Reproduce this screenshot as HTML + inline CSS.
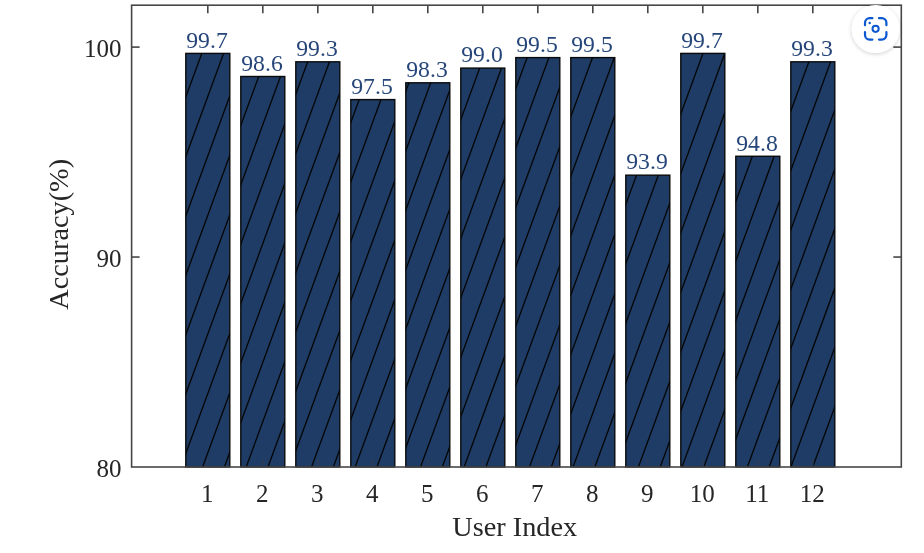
<!DOCTYPE html>
<html lang="en"><head><meta charset="utf-8"><title>Accuracy per User Index</title>
<style>
html,body{margin:0;padding:0;background:#fff;}
body{width:924px;height:553px;overflow:hidden;position:relative;font-family:"Liberation Serif","Times New Roman",serif;}
svg{position:absolute;left:0;top:0;display:block;}
text{font-family:"Liberation Serif","Times New Roman",serif;}
.tk{font-size:25px;fill:#262626;}
.lb{font-size:28.3px;fill:#262626;}
.vl{font-size:23.7px;fill:#26467a;}
</style></head><body>
<svg width="924" height="553" viewBox="0 0 924 553">
<defs>
<clipPath id="bars">
<rect x="185.80" y="53.40" width="44.00" height="413.60"/>
<rect x="240.80" y="76.49" width="44.00" height="390.51"/>
<rect x="295.80" y="61.80" width="44.00" height="405.20"/>
<rect x="350.80" y="99.59" width="44.00" height="367.41"/>
<rect x="405.80" y="82.79" width="44.00" height="384.21"/>
<rect x="460.80" y="68.09" width="44.00" height="398.90"/>
<rect x="515.80" y="57.60" width="44.00" height="409.40"/>
<rect x="570.80" y="57.60" width="44.00" height="409.40"/>
<rect x="625.80" y="175.17" width="44.00" height="291.83"/>
<rect x="680.80" y="53.40" width="44.00" height="413.60"/>
<rect x="735.80" y="156.27" width="44.00" height="310.73"/>
<rect x="790.80" y="61.80" width="44.00" height="405.20"/>
</clipPath>
<filter id="sh" x="-30%" y="-30%" width="160%" height="160%"><feGaussianBlur in="SourceAlpha" stdDeviation="2.2"/><feOffset dx="0" dy="1.2"/><feComponentTransfer><feFuncA type="linear" slope="0.2"/></feComponentTransfer><feMerge><feMergeNode/><feMergeNode in="SourceGraphic"/></feMerge></filter>
</defs>
<rect x="0" y="0" width="924" height="553" fill="#ffffff"/>
<g fill="#1e3c65" stroke="#0a0a0a" stroke-width="1.4">
<rect x="185.80" y="53.40" width="44.00" height="413.60"/>
<rect x="240.80" y="76.49" width="44.00" height="390.51"/>
<rect x="295.80" y="61.80" width="44.00" height="405.20"/>
<rect x="350.80" y="99.59" width="44.00" height="367.41"/>
<rect x="405.80" y="82.79" width="44.00" height="384.21"/>
<rect x="460.80" y="68.09" width="44.00" height="398.90"/>
<rect x="515.80" y="57.60" width="44.00" height="409.40"/>
<rect x="570.80" y="57.60" width="44.00" height="409.40"/>
<rect x="625.80" y="175.17" width="44.00" height="291.83"/>
<rect x="680.80" y="53.40" width="44.00" height="413.60"/>
<rect x="735.80" y="156.27" width="44.00" height="310.73"/>
<rect x="790.80" y="61.80" width="44.00" height="405.20"/>
</g>
<g clip-path="url(#bars)" stroke="#050505" stroke-width="1.3" fill="none">
<line x1="-15.47" y1="467.50" x2="156.03" y2="0.00"/>
<line x1="6.32" y1="467.50" x2="177.82" y2="0.00"/>
<line x1="28.11" y1="467.50" x2="199.61" y2="0.00"/>
<line x1="49.90" y1="467.50" x2="221.40" y2="0.00"/>
<line x1="71.69" y1="467.50" x2="243.19" y2="0.00"/>
<line x1="93.48" y1="467.50" x2="264.98" y2="0.00"/>
<line x1="115.27" y1="467.50" x2="286.77" y2="0.00"/>
<line x1="137.06" y1="467.50" x2="308.56" y2="0.00"/>
<line x1="158.85" y1="467.50" x2="330.35" y2="0.00"/>
<line x1="180.64" y1="467.50" x2="352.14" y2="0.00"/>
<line x1="202.43" y1="467.50" x2="373.93" y2="0.00"/>
<line x1="224.22" y1="467.50" x2="395.72" y2="0.00"/>
<line x1="246.01" y1="467.50" x2="417.51" y2="0.00"/>
<line x1="267.80" y1="467.50" x2="439.30" y2="0.00"/>
<line x1="289.59" y1="467.50" x2="461.09" y2="0.00"/>
<line x1="311.38" y1="467.50" x2="482.88" y2="0.00"/>
<line x1="333.17" y1="467.50" x2="504.67" y2="0.00"/>
<line x1="354.96" y1="467.50" x2="526.46" y2="0.00"/>
<line x1="376.75" y1="467.50" x2="548.25" y2="0.00"/>
<line x1="398.54" y1="467.50" x2="570.04" y2="0.00"/>
<line x1="420.33" y1="467.50" x2="591.83" y2="0.00"/>
<line x1="442.12" y1="467.50" x2="613.62" y2="0.00"/>
<line x1="463.91" y1="467.50" x2="635.41" y2="0.00"/>
<line x1="485.70" y1="467.50" x2="657.20" y2="0.00"/>
<line x1="507.49" y1="467.50" x2="678.99" y2="0.00"/>
<line x1="529.28" y1="467.50" x2="700.78" y2="0.00"/>
<line x1="551.07" y1="467.50" x2="722.57" y2="0.00"/>
<line x1="572.86" y1="467.50" x2="744.36" y2="0.00"/>
<line x1="594.65" y1="467.50" x2="766.15" y2="0.00"/>
<line x1="616.44" y1="467.50" x2="787.94" y2="0.00"/>
<line x1="638.23" y1="467.50" x2="809.73" y2="0.00"/>
<line x1="660.02" y1="467.50" x2="831.52" y2="0.00"/>
<line x1="681.81" y1="467.50" x2="853.31" y2="0.00"/>
<line x1="703.60" y1="467.50" x2="875.10" y2="0.00"/>
<line x1="725.39" y1="467.50" x2="896.89" y2="0.00"/>
<line x1="747.18" y1="467.50" x2="918.68" y2="0.00"/>
<line x1="768.97" y1="467.50" x2="940.47" y2="0.00"/>
<line x1="790.76" y1="467.50" x2="962.26" y2="0.00"/>
<line x1="812.55" y1="467.50" x2="984.05" y2="0.00"/>
<line x1="834.34" y1="467.50" x2="1005.84" y2="0.00"/>
<line x1="856.13" y1="467.50" x2="1027.63" y2="0.00"/>
<line x1="877.92" y1="467.50" x2="1049.42" y2="0.00"/>
</g>
<g stroke="#464646" stroke-width="1.6" fill="none">
<rect x="131.6" y="5.2" width="769.6999999999999" height="461.8"/>
<line x1="131.6" y1="47.10" x2="139.6" y2="47.10"/>
<line x1="901.3" y1="47.10" x2="893.3" y2="47.10"/>
<line x1="131.6" y1="257.05" x2="139.6" y2="257.05"/>
<line x1="901.3" y1="257.05" x2="893.3" y2="257.05"/>
<line x1="207.80" y1="5.2" x2="207.80" y2="13.2"/>
<line x1="262.80" y1="5.2" x2="262.80" y2="13.2"/>
<line x1="317.80" y1="5.2" x2="317.80" y2="13.2"/>
<line x1="372.80" y1="5.2" x2="372.80" y2="13.2"/>
<line x1="427.80" y1="5.2" x2="427.80" y2="13.2"/>
<line x1="482.80" y1="5.2" x2="482.80" y2="13.2"/>
<line x1="537.80" y1="5.2" x2="537.80" y2="13.2"/>
<line x1="592.80" y1="5.2" x2="592.80" y2="13.2"/>
<line x1="647.80" y1="5.2" x2="647.80" y2="13.2"/>
<line x1="702.80" y1="5.2" x2="702.80" y2="13.2"/>
<line x1="757.80" y1="5.2" x2="757.80" y2="13.2"/>
<line x1="812.80" y1="5.2" x2="812.80" y2="13.2"/>
</g>
<g stroke="#2f3d58" stroke-width="1.4" fill="none">
<line x1="207.80" y1="467.0" x2="207.80" y2="459.0"/>
<line x1="262.80" y1="467.0" x2="262.80" y2="459.0"/>
<line x1="317.80" y1="467.0" x2="317.80" y2="459.0"/>
<line x1="372.80" y1="467.0" x2="372.80" y2="459.0"/>
<line x1="427.80" y1="467.0" x2="427.80" y2="459.0"/>
<line x1="482.80" y1="467.0" x2="482.80" y2="459.0"/>
<line x1="537.80" y1="467.0" x2="537.80" y2="459.0"/>
<line x1="592.80" y1="467.0" x2="592.80" y2="459.0"/>
<line x1="647.80" y1="467.0" x2="647.80" y2="459.0"/>
<line x1="702.80" y1="467.0" x2="702.80" y2="459.0"/>
<line x1="757.80" y1="467.0" x2="757.80" y2="459.0"/>
<line x1="812.80" y1="467.0" x2="812.80" y2="459.0"/>
</g>
<text class="tk" x="121.4" y="56.70" text-anchor="end">100</text>
<text class="tk" x="121.4" y="266.65" text-anchor="end">90</text>
<text class="tk" x="121.4" y="476.60" text-anchor="end">80</text>
<text class="tk" x="207.30" y="502" text-anchor="middle">1</text>
<text class="tk" x="262.30" y="502" text-anchor="middle">2</text>
<text class="tk" x="317.30" y="502" text-anchor="middle">3</text>
<text class="tk" x="372.30" y="502" text-anchor="middle">4</text>
<text class="tk" x="427.30" y="502" text-anchor="middle">5</text>
<text class="tk" x="482.30" y="502" text-anchor="middle">6</text>
<text class="tk" x="537.30" y="502" text-anchor="middle">7</text>
<text class="tk" x="592.30" y="502" text-anchor="middle">8</text>
<text class="tk" x="647.30" y="502" text-anchor="middle">9</text>
<text class="tk" x="702.30" y="502" text-anchor="middle">10</text>
<text class="tk" x="757.30" y="502" text-anchor="middle">11</text>
<text class="tk" x="812.30" y="502" text-anchor="middle">12</text>
<text class="vl" x="207.00" y="47.70" text-anchor="middle">99.7</text>
<text class="vl" x="262.00" y="70.79" text-anchor="middle">98.6</text>
<text class="vl" x="317.00" y="56.10" text-anchor="middle">99.3</text>
<text class="vl" x="372.00" y="93.89" text-anchor="middle">97.5</text>
<text class="vl" x="427.00" y="77.09" text-anchor="middle">98.3</text>
<text class="vl" x="482.00" y="62.39" text-anchor="middle">99.0</text>
<text class="vl" x="537.00" y="51.90" text-anchor="middle">99.5</text>
<text class="vl" x="592.00" y="51.90" text-anchor="middle">99.5</text>
<text class="vl" x="647.00" y="169.47" text-anchor="middle">93.9</text>
<text class="vl" x="702.00" y="47.70" text-anchor="middle">99.7</text>
<text class="vl" x="757.00" y="150.57" text-anchor="middle">94.8</text>
<text class="vl" x="812.00" y="56.10" text-anchor="middle">99.3</text>
<text class="lb" x="514.7" y="536.4" text-anchor="middle">User Index</text>
<text class="lb" transform="translate(67.5,234.3) rotate(-90)" text-anchor="middle">Accuracy(%)</text>
<g filter="url(#sh)"><circle cx="875.7" cy="29" r="24" fill="#ffffff"/></g>
<g fill="none" stroke="#0b57d0" stroke-width="2.2" stroke-linecap="round" stroke-linejoin="round">
<path d="M865 25.2 V22.6 A4.6 4.6 0 0 1 869.6 18.2 H872.4"/>
<path d="M879 18.2 H881.8 A4.6 4.6 0 0 1 886.4 22.8 V25.2"/>
<path d="M865 32 V35 A4.6 4.6 0 0 0 869.6 39.6 H872.4"/>
<path d="M879 39.6 H881.8 A4.6 4.6 0 0 0 886.4 35 V32"/>
<circle cx="875.6" cy="28.8" r="3.1" stroke-width="2"/>
</g>
<circle cx="869.7" cy="23" r="1.2" fill="#0b57d0"/>
</svg>
</body></html>
